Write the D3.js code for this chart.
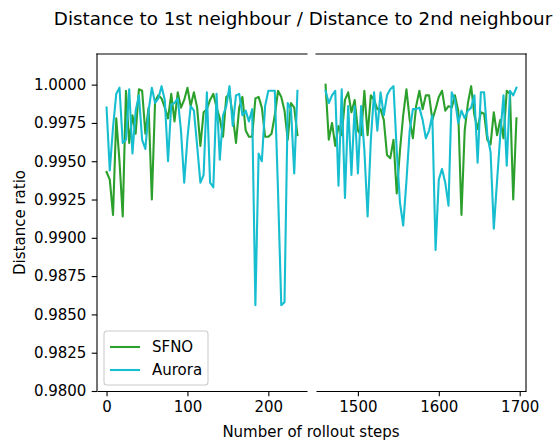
<!DOCTYPE html>
<html>
<head>
<meta charset="utf-8">
<script src="https://cdn.jsdelivr.net/npm/d3@7"></script>
<style>
  body { margin: 0; background: #fff; }
  svg { display: block; font-family: "DejaVu Sans", sans-serif; }
</style>
</head>
<body>
<svg id="chart" width="555" height="442"></svg>
<script>
// Rollout steps, early window and late window
const stepsEarly = [0,4,8,12,16,20,24,28,32,36,40,44,48,52,56,60,64,68,72,76,80,84,88,92,96,100,104,108,112,116,
  120,124,128,132,136,140,144,148,152,156,160,164,168,172,176,180,184,188,192,196,200,204,208,212,216,220,224,228,232,236];
const stepsLate = [1460,1464,1468,1472,1476,1480,1484,1488,1492,1496,1500,1504,1508,1512,1516,1520,1524,1528,1532,1536,
  1540,1544,1548,1552,1556,1560,1564,1568,1572,1576,1580,1584,1588,1592,1596,1600,1604,1608,1612,1616,
  1620,1624,1628,1632,1636,1640,1644,1648,1652,1656,1660,1664,1668,1672,1676,1680,1684,1688,1692,1696];

// Distance-to-1st / distance-to-2nd neighbour ratio per model
const sfnoEarly = [0.9943,0.9938,0.9915,0.9978,0.9950,0.9914,0.9996,0.9962,0.9980,0.9968,
  0.9997,0.9996,0.9968,0.9985,0.9925,0.9989,0.9993,0.9991,0.9985,0.9978,
  0.9994,0.9976,0.9995,0.9985,0.9990,0.9998,0.9986,0.9995,0.9985,0.9960,
  0.9982,0.9984,0.9990,0.9994,0.9985,0.9978,0.9966,0.9992,0.9994,0.9980,
  0.9962,0.9985,0.9992,0.9970,0.9966,0.9966,0.9991,0.9992,0.9985,0.9966,
  0.9966,0.9968,0.9980,0.9996,0.9992,0.9983,0.9964,0.9988,0.9985,0.9967];
const auroraEarly = [0.9985,0.9944,0.9972,0.9994,0.9998,0.9962,0.9964,0.9997,0.9955,0.9983,
  0.9993,0.9964,0.9958,0.9983,0.9998,0.9988,0.9991,0.9999,0.9990,0.9950,
  0.9987,0.9988,0.9991,0.9970,0.9936,0.9965,0.9986,0.9983,0.9960,0.9936,
  0.9941,0.9995,0.9936,0.9933,0.9994,0.9951,0.9980,0.9986,0.9999,0.9973,
  0.9993,0.9994,0.9980,0.9983,0.9976,0.9984,0.9856,0.9955,0.9950,0.9986,
  0.9996,0.9996,0.9996,0.9930,0.9856,0.9858,0.9988,0.9984,0.9942,0.9996];
const sfnoLate = [1.0000,0.9964,0.9975,0.9960,0.9973,0.9967,0.9990,0.9995,0.9982,0.9990,
  0.9970,0.9967,0.9996,0.9967,0.9993,0.9990,0.9984,0.9984,0.9977,0.9954,
  0.9952,0.9964,0.9929,0.9957,0.9980,0.9997,0.9977,0.9965,0.9986,0.9996,
  0.9984,0.9993,0.9993,0.9977,0.9984,0.9992,0.9996,0.9983,0.9986,0.9985,
  0.9993,0.9983,0.9915,0.9970,0.9988,0.9999,0.9980,0.9971,0.9982,0.9981,
  0.9964,0.9961,0.9982,0.9967,0.9977,0.9965,0.9996,0.9994,0.9925,0.9978];
const auroraLate = [0.9996,0.9988,0.9993,0.9996,0.9934,0.9997,0.9926,0.9986,0.9941,0.9986,
  0.9942,0.9986,0.9957,0.9914,0.9964,0.9995,0.9970,0.9995,0.9980,0.9993,
  0.9997,0.9999,0.9957,0.9923,0.9908,0.9937,0.9970,0.9984,0.9984,0.9985,
  0.9977,0.9965,0.9970,0.9980,0.9892,0.9938,0.9945,0.9936,0.9921,0.9995,
  0.9990,0.9975,0.9983,0.9978,0.9983,0.9985,0.9993,0.9949,0.9995,0.9995,
  0.9967,0.9956,0.9906,0.9937,0.9967,0.9993,0.9947,0.9996,0.9993,0.9998];

const seriesNames = ["SFNO", "Aurora"];
const seriesColors = ["#2ca02c", "#17becf"];
const ticksEarly = [0, 100, 200];
const ticksLate = [1500, 1600, 1700];
const yTicks = [0.98, 0.9825, 0.985, 0.9875, 0.99, 0.9925, 0.995, 0.9975, 1.0];

const svg = d3.select("#chart");
const plotTop = 54, plotBottom = 391;
const fs = 15;           // label font size
const tickLen = 5.3, tickPad = 5.3;

const y = d3.scaleLinear().domain([0.98, 1.002]).range([plotBottom, plotTop]);

const panels = [
  { id: "early", x0: 97,  x1: 307, domain: [-11.8, 247.8], steps: stepsEarly,
    data: [sfnoEarly, auroraEarly], ticks: ticksEarly, leftSpine: true },
  { id: "late",  x0: 316, x1: 526, domain: [1448.2, 1707.8], steps: stepsLate,
    data: [sfnoLate, auroraLate], ticks: ticksLate, leftSpine: false }
];

const defs = svg.append("defs");

panels.forEach(p => {
  const x = d3.scaleLinear().domain(p.domain).range([p.x0, p.x1]);

  defs.append("clipPath").attr("id", "clip-" + p.id)
    .append("rect").attr("x", p.x0).attr("y", plotTop)
    .attr("width", p.x1 - p.x0).attr("height", plotBottom - plotTop);

  const g = svg.append("g").attr("clip-path", `url(#clip-${p.id})`);
  const line = d3.line().x((d, i) => x(p.steps[i])).y(d => y(d));
  p.data.forEach((vals, k) => {
    g.append("path").datum(vals)
      .attr("d", line)
      .attr("fill", "none")
      .attr("stroke", seriesColors[k])
      .attr("stroke-width", 2.1)
      .attr("stroke-linejoin", "round")
      .attr("stroke-linecap", "square");
  });

  // x axis
  const xa = svg.append("g").attr("transform", `translate(0,${plotBottom})`)
    .call(d3.axisBottom(x).tickValues(p.ticks).tickFormat(d3.format("d"))
      .tickSize(tickLen).tickSizeOuter(0).tickPadding(tickPad));
  xa.selectAll("text").attr("font-size", fs).attr("font-family", "DejaVu Sans").attr("fill", "#000");
  xa.selectAll("line, path").attr("stroke", "#000").attr("stroke-width", 1.1);

  // frame lines
  const spine = (x1, y1, x2, y2) => svg.append("line")
    .attr("x1", x1).attr("y1", y1).attr("x2", x2).attr("y2", y2)
    .attr("stroke", "#000").attr("stroke-width", 1.1).attr("stroke-linecap", "square");
  spine(p.x0, plotTop, p.x1, plotTop);
  if (p.leftSpine) {
    const ya = svg.append("g").attr("transform", `translate(${p.x0},0)`)
      .call(d3.axisLeft(y).tickValues(yTicks).tickFormat(d3.format(".4f"))
        .tickSize(tickLen).tickSizeOuter(0).tickPadding(tickPad));
    ya.select(".domain").remove();
    ya.selectAll("text").attr("font-size", fs).attr("font-family", "DejaVu Sans").attr("fill", "#000");
    ya.selectAll("line").attr("stroke", "#000").attr("stroke-width", 1.1);
    spine(p.x0, plotTop, p.x0, plotBottom);
  } else {
    spine(p.x1, plotTop, p.x1, plotBottom);
  }
});

// title and axis labels
svg.append("text").attr("x", 303).attr("y", 25).attr("text-anchor", "middle")
  .attr("font-size", 18.3).text("Distance to 1st neighbour / Distance to 2nd neighbour");
svg.append("text").attr("x", 311).attr("y", 437).attr("text-anchor", "middle")
  .attr("font-size", fs).text("Number of rollout steps");
svg.append("text").attr("transform", `translate(25,${(plotTop + plotBottom) / 2}) rotate(-90)`)
  .attr("text-anchor", "middle").attr("font-size", fs).text("Distance ratio");

// legend
const lg = svg.append("g").attr("transform", "translate(104,331)");
lg.append("rect").attr("x", 0).attr("y", 0).attr("width", 104).attr("height", 54).attr("rx", 3)
  .attr("fill", "#fff").attr("fill-opacity", 0.8).attr("stroke", "#cccccc").attr("stroke-width", 1.1);
seriesNames.forEach((name, k) => {
  const yy = 16 + k * 23;
  lg.append("line").attr("x1", 6).attr("x2", 36).attr("y1", yy).attr("y2", yy)
    .attr("stroke", seriesColors[k]).attr("stroke-width", 2.1);
  lg.append("text").attr("x", 48).attr("y", yy).attr("dy", "0.35em")
    .attr("font-size", fs).text(name);
});
</script>
</body>
</html>
